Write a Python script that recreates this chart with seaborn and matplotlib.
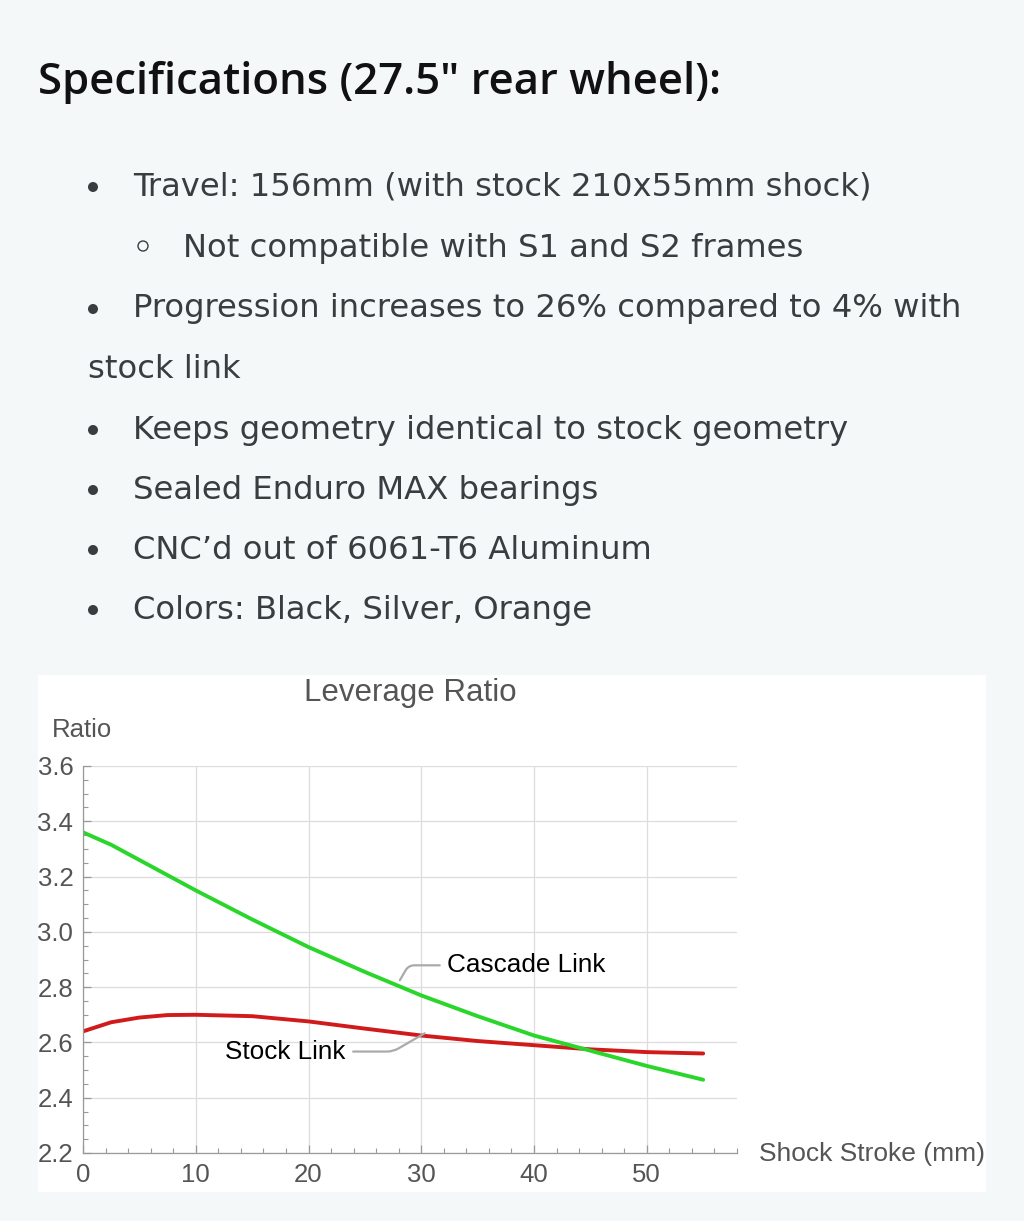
import numpy as np
import pandas as pd
import seaborn as sns
import matplotlib.pyplot as plt
from matplotlib.patches import Rectangle, Ellipse
from matplotlib.ticker import MultipleLocator

# data
stroke = [0, 2.5, 5, 7.5, 10, 15, 20, 25, 30, 35, 40, 45, 50, 55]
cascade = [3.36, 3.315, 3.26, 3.205, 3.15, 3.045, 2.945, 2.855, 2.77, 2.695, 2.625, 2.57, 2.515, 2.465]
stock = [2.64, 2.673, 2.69, 2.699, 2.70, 2.695, 2.676, 2.65, 2.625, 2.605, 2.59, 2.575, 2.565, 2.56]

heading = 'Specifications (27.5" rear wheel):'
bullets = [
    ("dot", 133, 185, "Travel: 156mm (with stock 210x55mm shock)"),
    ("ring", 183, 246, "Not compatible with S1 and S2 frames"),
    ("dot", 133, 307, "Progression increases to 26% compared to 4% with"),
    (None, 88, 367, "stock link"),
    ("dot", 133, 428, "Keeps geometry identical to stock geometry"),
    ("dot", 133, 488, "Sealed Enduro MAX bearings"),
    ("dot", 133, 548, "CNC\u2019d out of 6061-T6 Aluminum"),
    ("dot", 133, 608, "Colors: Black, Silver, Orange"),
]

sns.set_style("ticks")
plt.rcParams['font.family'] = ['Liberation Sans', 'DejaVu Sans']

W, H = 1024, 1221
fig = plt.figure(figsize=(W / 100, H / 100), dpi=100)
fig.patch.set_facecolor("#f4f8f9")

def fx(x):
    return x / W

def fy(y):
    return 1 - y / H

# page text
fig.text(fx(38), fy(82), heading, fontsize=31.5, fontweight="semibold",
         family=["Open Sans", "DejaVu Sans"], color="#111111", va="center", ha="left")
for kind, x, y, txt in bullets:
    fig.text(fx(x), fy(y + 2), txt, fontsize=23.2, family=["DejaVu Sans"],
             color="#3a3d40", va="center", ha="left")
    if kind == "dot":
        fig.add_artist(Ellipse((fx(93), fy(y + 2)), 10 / W, 10 / H,
                               transform=fig.transFigure, facecolor="#3a3d40",
                               edgecolor="none"))
    elif kind == "ring":
        fig.add_artist(Ellipse((fx(143), fy(y)), 10 / W, 10 / H,
                               transform=fig.transFigure, facecolor="none",
                               edgecolor="#3a3d40", lw=1.0))

# white chart panel
fig.add_artist(Rectangle((fx(38), fy(1192)), (986 - 38) / W, (1192 - 675) / H,
                         transform=fig.transFigure, facecolor="white",
                         edgecolor="none", zorder=-5))

ax = fig.add_axes([fx(83), fy(1153), (737 - 83) / W, (1153 - 766) / H])
ax.set_facecolor("none")
ax.set_zorder(2)

df = pd.DataFrame({"stroke": stroke, "Cascade Link": cascade, "Stock Link": stock})
sns.lineplot(data=df, x="stroke", y="Stock Link", ax=ax, color="#d11a1a", lw=2.8)
sns.lineplot(data=df, x="stroke", y="Cascade Link", ax=ax, color="#2bd62b", lw=2.8)

ax.set_xlim(0, 58)
ax.set_ylim(2.2, 3.6)
ax.xaxis.set_major_locator(MultipleLocator(10))
ax.xaxis.set_minor_locator(MultipleLocator(2))
ax.yaxis.set_minor_locator(MultipleLocator(0.05))
ax.set_yticks(np.arange(2.2, 3.61, 0.2))
ax.set_yticklabels([f"{v:.1f}" for v in np.arange(2.2, 3.61, 0.2)])
ax.grid(True, which="major", color="#dddddd", lw=0.9)
ax.tick_params(which="major", direction="in", length=6, width=0.9, color="#999999",
               labelsize=18.5, labelcolor="#555555", pad=7)
ax.tick_params(which="minor", direction="in", length=3.5, width=0.8, color="#999999")
for s in ["top", "right"]:
    ax.spines[s].set_visible(False)
for s in ["left", "bottom"]:
    ax.spines[s].set_color("#999999")
    ax.spines[s].set_linewidth(0.9)
ax.set_xlabel("")
ax.set_ylabel("")

fig.text(fx(410), fy(693), "Leverage Ratio", fontsize=22.5, color="#555555",
         ha="center", va="center")
fig.text(fx(52), fy(730), "Ratio", fontsize=18.5, color="#555555", ha="left", va="center")
fig.text(fx(759), fy(1154), "Shock Stroke (mm)", fontsize=19, color="#555555",
         ha="left", va="center")

ax.annotate("Cascade Link", xy=(28.1, 2.825), xytext=(32.3, 2.879),
            fontsize=18.8, color="black", ha="left", va="center",
            arrowprops=dict(arrowstyle="-", color="#aaaaaa", lw=1.6,
                            connectionstyle="angle,angleA=180,angleB=60,rad=6",
                            shrinkA=3, shrinkB=0))
ax.annotate("Stock Link", xy=(30.3, 2.633), xytext=(23.3, 2.567),
            fontsize=18.8, color="black", ha="right", va="center",
            arrowprops=dict(arrowstyle="-", color="#aaaaaa", lw=1.6,
                            connectionstyle="angle,angleA=0,angleB=-150,rad=6",
                            shrinkA=3, shrinkB=0))

fig.savefig("out.png", dpi=100, facecolor=fig.get_facecolor())
